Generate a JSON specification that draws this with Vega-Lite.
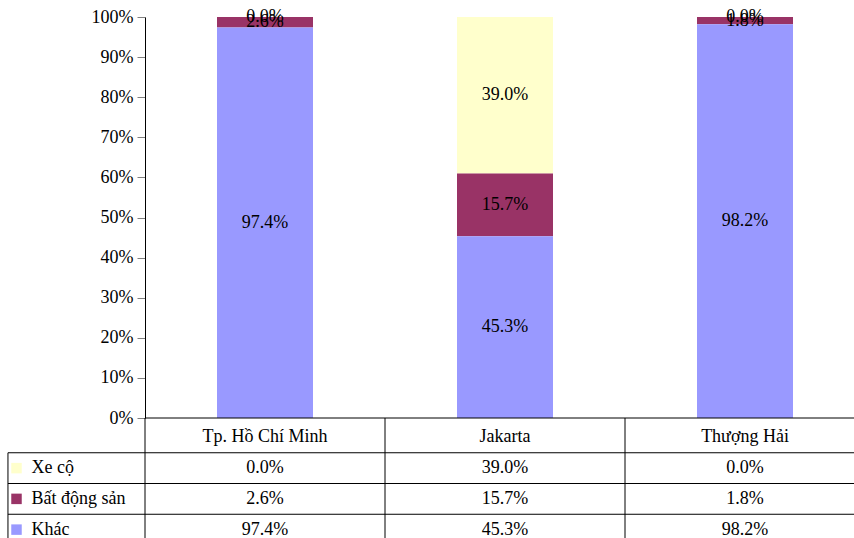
{
  "$schema": "https://vega.github.io/schema/vega-lite/v6.json",
  "width": 709,
  "height": 521,
  "autosize": {"type": "none"},
  "padding": {"left": 145, "top": 17, "right": 0, "bottom": 0},
  "background": "white",
  "config": {
    "view": {"stroke": null},
    "text": {"font": "Times New Roman, Liberation Serif, serif", "fontSize": 18, "color": "black"}
  },
  "data": {
    "values": [
      {"city": "Tp. Hồ Chí Minh", "series": "Xe cộ", "value": 0.0},
      {"city": "Tp. Hồ Chí Minh", "series": "Bất động sản", "value": 0.026},
      {"city": "Tp. Hồ Chí Minh", "series": "Khác", "value": 0.974},
      {"city": "Jakarta", "series": "Xe cộ", "value": 0.39},
      {"city": "Jakarta", "series": "Bất động sản", "value": 0.157},
      {"city": "Jakarta", "series": "Khác", "value": 0.453},
      {"city": "Thượng Hải", "series": "Xe cộ", "value": 0.0},
      {"city": "Thượng Hải", "series": "Bất động sản", "value": 0.018},
      {"city": "Thượng Hải", "series": "Khác", "value": 0.982}
    ]
  },
  "transform": [
    {"calculate": "indexof(['Khác','Bất động sản','Xe cộ'], datum.series)", "as": "o"},
    {"stack": "value", "groupby": ["city"], "sort": [{"field": "o", "order": "ascending"}], "as": ["v0", "v1"]},
    {"calculate": "(datum.v0 + datum.v1) / 2", "as": "mid"}
  ],
  "resolve": {"scale": {"y": "independent"}, "axis": {"y": "independent"}},
  "layer": [
    {
      "mark": {"type": "bar", "width": {"band": 0.4}},
      "encoding": {
        "x": {"field": "city", "type": "nominal", "axis": null,
          "scale": {"type": "band", "domain": ["", "Tp. Hồ Chí Minh", "Jakarta", "Thượng Hải", "~"], "range": [-240, 960], "paddingInner": 0, "paddingOuter": 0}},
        "y": {"field": "v0", "type": "quantitative",
          "scale": {"type": "linear", "domain": [0, 1], "range": [401, 0], "nice": false, "zero": false},
          "axis": {"values": [0, 0.1, 0.2, 0.3, 0.4, 0.5, 0.6, 0.7, 0.8, 0.9, 1], "format": ".0%", "title": null, "grid": false,
            "labelFont": "Times New Roman, Liberation Serif, serif", "labelFontSize": 18, "labelColor": "black", "labelPadding": 4,
            "tickColor": "#808080", "tickSize": 8, "domainColor": "black", "labelOverlap": false}},
        "y2": {"field": "v1"},
        "color": {"field": "series", "type": "nominal", "legend": null,
          "scale": {"domain": ["Xe cộ", "Bất động sản", "Khác"], "range": ["#FFFFCC", "#993366", "#9999FF"]}}
      }
    },
    {
      "mark": {"type": "text", "baseline": "middle"},
      "encoding": {
        "x": {"field": "city", "type": "nominal", "axis": null,
          "scale": {"type": "band", "domain": ["", "Tp. Hồ Chí Minh", "Jakarta", "Thượng Hải", "~"], "range": [-240, 960], "paddingInner": 0, "paddingOuter": 0}},
        "y": {"field": "mid", "type": "quantitative", "axis": null,
          "scale": {"type": "linear", "domain": [0, 1], "range": [401, 0], "nice": false, "zero": false}},
        "text": {"field": "value", "type": "quantitative", "format": ".1%"}
      }
    },
    {
      "mark": {"type": "text", "baseline": "middle"},
      "encoding": {
        "x": {"field": "city", "type": "nominal", "axis": null,
          "scale": {"type": "band", "domain": ["", "Tp. Hồ Chí Minh", "Jakarta", "Thượng Hải", "~"], "range": [-240, 960], "paddingInner": 0, "paddingOuter": 0}},
        "y": {"field": "series", "type": "nominal", "axis": null,
          "scale": {"type": "band", "domain": ["header", "Xe cộ", "Bất động sản", "Khác"], "range": [405, 528], "paddingInner": 0, "paddingOuter": 0}},
        "text": {"field": "value", "type": "quantitative", "format": ".1%"}
      }
    },
    {
      "transform": [{"filter": "datum.series == 'Khác'"}],
      "mark": {"type": "text", "baseline": "middle"},
      "encoding": {
        "x": {"field": "city", "type": "nominal", "axis": null,
          "scale": {"type": "band", "domain": ["", "Tp. Hồ Chí Minh", "Jakarta", "Thượng Hải", "~"], "range": [-240, 960], "paddingInner": 0, "paddingOuter": 0}},
        "y": {"datum": "header", "type": "nominal", "axis": null,
          "scale": {"type": "band", "domain": ["header", "Xe cộ", "Bất động sản", "Khác"], "range": [405, 528], "paddingInner": 0, "paddingOuter": 0}},
        "text": {"field": "city", "type": "nominal"}
      }
    },
    {
      "transform": [{"filter": "datum.city == 'Tp. Hồ Chí Minh'"}],
      "mark": {"type": "text", "baseline": "middle", "align": "left"},
      "encoding": {
        "x": {"datum": "", "type": "nominal", "bandPosition": 0.5275, "axis": null,
          "scale": {"type": "band", "domain": ["", "Tp. Hồ Chí Minh", "Jakarta", "Thượng Hải", "~"], "range": [-240, 960], "paddingInner": 0, "paddingOuter": 0}},
        "y": {"field": "series", "type": "nominal", "axis": null,
          "scale": {"type": "band", "domain": ["header", "Xe cộ", "Bất động sản", "Khác"], "range": [405, 528], "paddingInner": 0, "paddingOuter": 0}},
        "text": {"field": "series", "type": "nominal"}
      }
    },
    {
      "transform": [{"filter": "datum.city == 'Tp. Hồ Chí Minh'"}],
      "mark": {"type": "point", "shape": "square", "filled": true, "size": 110, "opacity": 1, "strokeWidth": 0},
      "encoding": {
        "x": {"datum": "", "type": "nominal", "bandPosition": 0.4646, "axis": null,
          "scale": {"type": "band", "domain": ["", "Tp. Hồ Chí Minh", "Jakarta", "Thượng Hải", "~"], "range": [-240, 960], "paddingInner": 0, "paddingOuter": 0}},
        "y": {"field": "series", "type": "nominal", "axis": null,
          "scale": {"type": "band", "domain": ["header", "Xe cộ", "Bất động sản", "Khác"], "range": [405, 528], "paddingInner": 0, "paddingOuter": 0}},
        "color": {"field": "series", "type": "nominal", "legend": null,
          "scale": {"domain": ["Xe cộ", "Bất động sản", "Khác"], "range": ["#FFFFCC", "#993366", "#9999FF"]}}
      }
    },
    {
      "transform": [{"filter": "datum.city == 'Tp. Hồ Chí Minh'"}],
      "mark": {"type": "rule", "color": "black", "strokeWidth": 1},
      "encoding": {
        "x": {"datum": "", "type": "nominal", "bandPosition": 0.429, "axis": null,
          "scale": {"type": "band", "domain": ["", "Tp. Hồ Chí Minh", "Jakarta", "Thượng Hải", "~"], "range": [-240, 960], "paddingInner": 0, "paddingOuter": 0}},
        "x2": {"datum": "~"},
        "y": {"field": "series", "type": "nominal", "bandPosition": 0, "axis": null,
          "scale": {"type": "band", "domain": ["header", "Xe cộ", "Bất động sản", "Khác"], "range": [405, 528], "paddingInner": 0, "paddingOuter": 0}}
      }
    },
    {
      "transform": [{"filter": "datum.series == 'Khác'"}],
      "mark": {"type": "rule", "color": "black", "strokeWidth": 1},
      "encoding": {
        "x": {"field": "city", "type": "nominal", "bandPosition": 0, "axis": null,
          "scale": {"type": "band", "domain": ["", "Tp. Hồ Chí Minh", "Jakarta", "Thượng Hải", "~"], "range": [-240, 960], "paddingInner": 0, "paddingOuter": 0}},
        "y": {"datum": 0, "type": "quantitative", "axis": null,
          "scale": {"type": "linear", "domain": [0, 1], "range": [401, 0], "nice": false, "zero": false}},
        "y2": {"datum": -0.31}
      }
    },
    {
      "transform": [{"filter": "datum.series == 'Khác' && datum.city == 'Jakarta'"}],
      "mark": {"type": "rule", "color": "black", "strokeWidth": 1},
      "encoding": {
        "x": {"datum": "", "type": "nominal", "bandPosition": 0.429, "axis": null,
          "scale": {"type": "band", "domain": ["", "Tp. Hồ Chí Minh", "Jakarta", "Thượng Hải", "~"], "range": [-240, 960], "paddingInner": 0, "paddingOuter": 0}},
        "y": {"datum": -0.0867, "type": "quantitative", "axis": null,
          "scale": {"type": "linear", "domain": [0, 1], "range": [401, 0], "nice": false, "zero": false}},
        "y2": {"datum": -0.31}
      }
    },
    {
      "transform": [{"filter": "datum.series == 'Khác' && datum.city == 'Jakarta'"}],
      "mark": {"type": "rule", "color": "black", "strokeWidth": 1},
      "encoding": {
        "x": {"datum": "Tp. Hồ Chí Minh", "type": "nominal", "bandPosition": 0, "axis": null,
          "scale": {"type": "band", "domain": ["", "Tp. Hồ Chí Minh", "Jakarta", "Thượng Hải", "~"], "range": [-240, 960], "paddingInner": 0, "paddingOuter": 0}},
        "x2": {"datum": "~"},
        "y": {"datum": 0, "type": "quantitative", "axis": null,
          "scale": {"type": "linear", "domain": [0, 1], "range": [401, 0], "nice": false, "zero": false}}
      }
    }
  ]
}
